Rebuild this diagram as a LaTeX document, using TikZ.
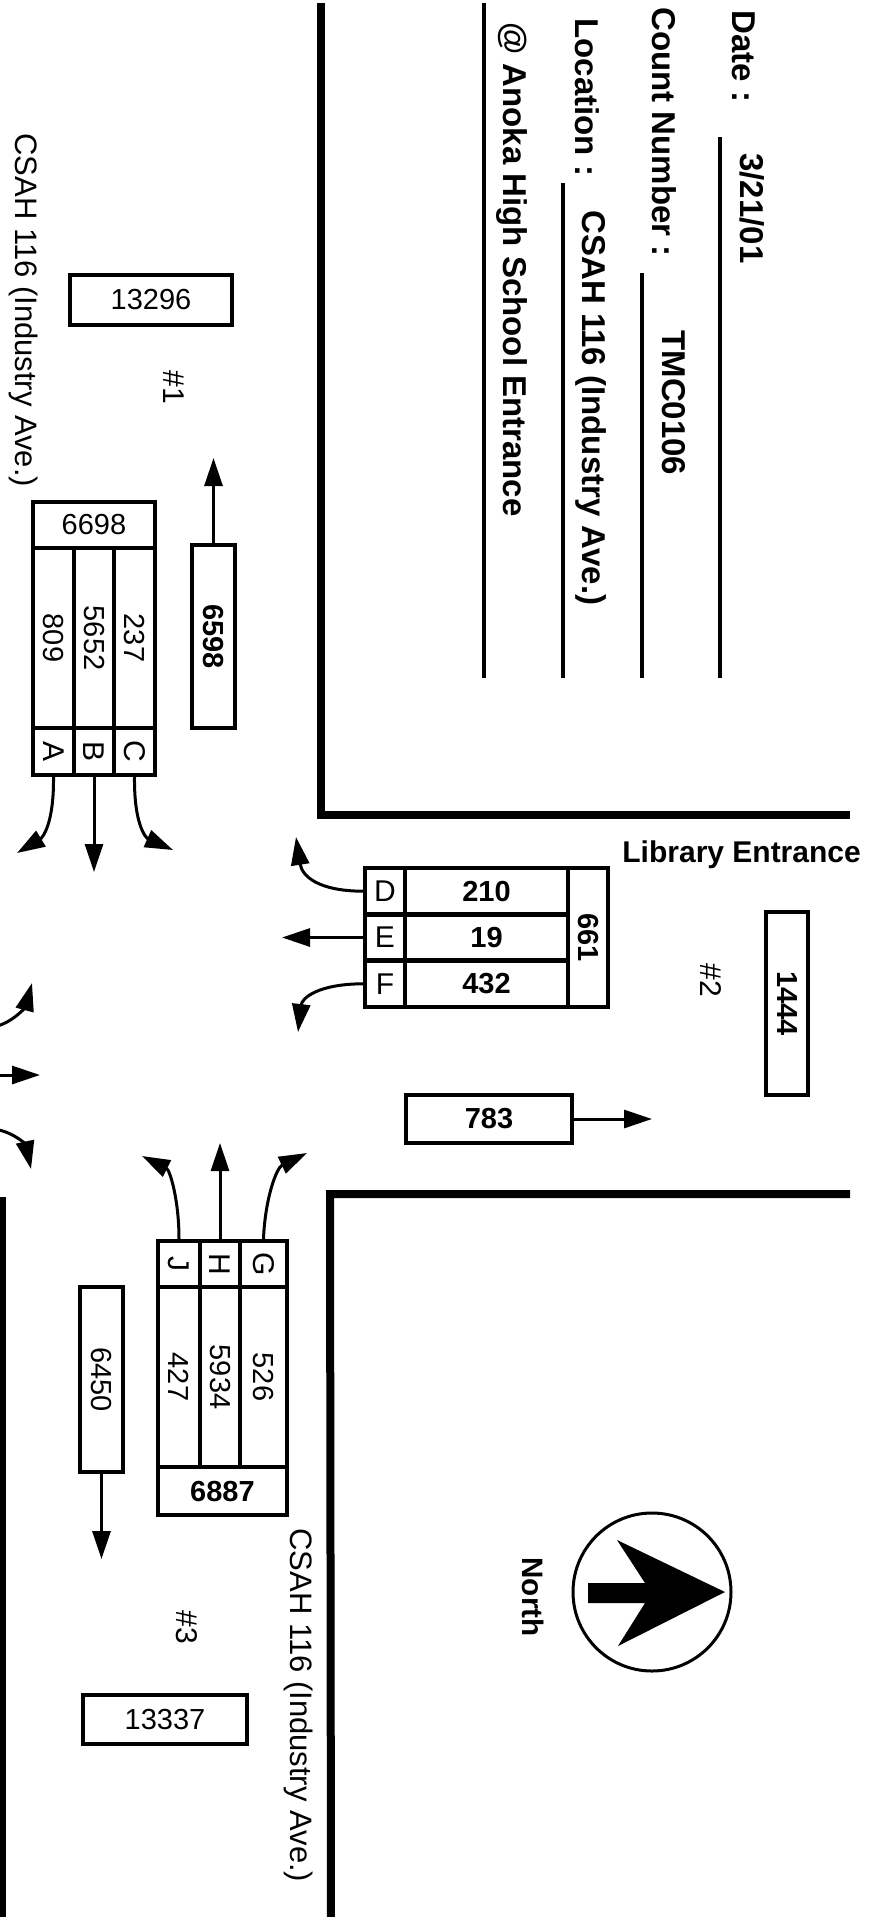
\documentclass[tikz,border=0pt]{standalone}
\usepackage{fontspec}
\setmainfont{Liberation Sans}
\usepackage{graphicx}
\usetikzlibrary{arrows.meta}
\newcommand{\rt}[1]{\rotatebox{-90}{#1}}
\begin{document}
\begin{tikzpicture}[x=0.5pt,y=-0.5pt,
 road/.style={line width=4pt},
 uline/.style={line width=2.4pt},
 hdr/.style={font=\fontsize{16.5}{18}\selectfont\bfseries, inner sep=0pt, rotate=-90, anchor=base west},
 street/.style={font=\fontsize{15.5}{18}\selectfont, inner sep=0pt, rotate=-90, anchor=base west},
 cell/.style={draw, line width=2.2pt, inner sep=0pt, font=\fontsize{14.5}{16}\selectfont},
 bcell/.style={cell, font=\fontsize{14.5}{16}\selectfont\bfseries},
 lcell/.style={cell, font=\fontsize{15}{16}\selectfont},
 lbl/.style={inner sep=0pt, font=\fontsize{15}{16}\selectfont},
 arr/.style={line width=1.5pt, -{Triangle[length=14pt,width=9pt]}},
]
\fill[white] (0,0) rectangle (874,1917);
\useasboundingbox (0,0) rectangle (874,1917);

% ---------- header ----------
\node[hdr] (date) at (732,10) {Date :};
\node[hdr] (datev) at (740,153) {3/21/01};
\node[hdr] (cnt) at (652,7) {Count Number :};
\node[hdr] (cntv) at (662,330) {TMC0106};
\node[hdr] (loc) at (575,18) {Location :};
\node[hdr] (locv) at (582,210) {CSAH 116 (Industry Ave.)};
\node[hdr] (atl) at (503,22) {@ Anoka High School Entrance};
\draw[uline] (720,137) -- (720,678);
\draw[uline] (642,273) -- (642,678);
\draw[uline] (563,183) -- (563,678);
\draw[uline] (484,3) -- (484,678);

% ---------- road edges ----------
\draw[road] (321,3) -- (321,815) -- (850,815);
\draw[road] (850,1194) -- (330,1194) -- (331,1920);
\draw[road] (2,1197) -- (2,1920);

% ---------- street labels ----------
\node[street] (st1) at (15,133) {CSAH 116 (Industry Ave.)};
\node[street] (st2) at (290,1528) {CSAH 116 (Industry Ave.)};

% ---------- approach #1 ----------
\node[cell, minimum width=81pt, minimum height=25pt] (tot1) at (151,300) {13296};
\node[lbl] (h1) at (174,387) {\rt{\#1}};
\node[bcell, minimum width=21.5pt, minimum height=91.5pt] (out1) at (213.5,636.5) {\rt{6598}};
\coordinate (out1e) at (213.5,458);
\draw[arr] (out1.north) -- (out1e);

\node[cell, minimum width=61pt, minimum height=23pt] (in1) at (94,525) {6698};
\node[cell, minimum width=20.5pt, minimum height=90pt] (nA) at (53.5,638) {\rt{809}};
\node[cell, minimum width=20pt, minimum height=90pt] (nB) at (94,638) {\rt{5652}};
\node[cell, minimum width=20.5pt, minimum height=90pt] (nC) at (134.5,638) {\rt{237}};
\node[lcell, minimum width=20.5pt, minimum height=23.5pt] (lA) at (53.5,751.5) {\rt{A}};
\node[lcell, minimum width=20pt, minimum height=23.5pt] (lB) at (94,751.5) {\rt{B}};
\node[lcell, minimum width=20.5pt, minimum height=23.5pt] (lC) at (134.5,751.5) {\rt{C}};
\coordinate (eA) at (17,853);
\coordinate (eB) at (94,872);
\coordinate (eC) at (173,850);
\draw[arr] (lA.south) .. controls (54,825) and (42,838) .. (eA);
\draw[arr] (lB.south) -- (eB);
\draw[arr] (lC.south) .. controls (134,825) and (146,838) .. (eC);

% ---------- approach #2 ----------
\node[lcell, minimum width=20pt, minimum height=23.2pt] (lD) at (385,891.2) {D};
\node[lcell, minimum width=20pt, minimum height=23.2pt] (lE) at (385,937.5) {E};
\node[lcell, minimum width=20pt, minimum height=23.2pt] (lF) at (385,983.8) {F};
\node[bcell, minimum width=81.5pt, minimum height=23.2pt] (nD) at (486.5,891.2) {210};
\node[bcell, minimum width=81.5pt, minimum height=23.2pt] (nE) at (486.5,937.5) {19};
\node[bcell, minimum width=81.5pt, minimum height=23.2pt] (nF) at (486.5,983.8) {432};
\node[bcell, minimum width=20pt, minimum height=69.5pt] (in2) at (588,937.5) {\rt{661}};
\coordinate (eD) at (296,837);
\coordinate (eE) at (282,937.5);
\coordinate (eF) at (298,1032);
\draw[arr] (lD.west) .. controls (318,891) and (302,876) .. (eD);
\draw[arr] (lE.west) -- (eE);
\draw[arr] (lF.west) .. controls (318,984) and (302,998) .. (eF);

\node[inner sep=0pt, font=\fontsize{15}{16}\selectfont\bfseries, anchor=base west] (lib) at (622,862) {Library Entrance};
\node[bcell, minimum width=21pt, minimum height=91.5pt] (tot2) at (787,1003.5) {\rt{1444}};
\node[lbl] (h2) at (711,980) {\rt{\#2}};
\node[bcell, minimum width=83pt, minimum height=24pt] (out2) at (489,1119) {783};
\coordinate (out2e) at (652,1119);
\draw[arr] (out2.east) -- (out2e);

% ---------- west side arrows (partly off page) ----------
\coordinate (w1s) at (-6,1027);
\coordinate (w1e) at (32,983);
\coordinate (w2s) at (-6,1075);
\coordinate (w2e) at (40,1075);
\coordinate (w3s) at (-6,1129);
\coordinate (w3e) at (31,1169);
\draw[arr] (w1s) .. controls (15,1022) and (26,1005) .. (w1e);
\draw[arr] (w2s) -- (w2e);
\draw[arr] (w3s) .. controls (15,1132) and (26,1146) .. (w3e);

% ---------- approach #3 ----------
\node[lcell, minimum width=21pt, minimum height=23pt] (lJ) at (179,1264) {\rt{J}};
\node[lcell, minimum width=20pt, minimum height=23pt] (lH) at (220,1264) {\rt{H}};
\node[lcell, minimum width=23.5pt, minimum height=23pt] (lG) at (263.5,1264) {\rt{G}};
\node[cell, minimum width=21pt, minimum height=90pt] (nJ) at (179,1377) {\rt{427}};
\node[cell, minimum width=20pt, minimum height=90pt] (nH) at (220,1377) {\rt{5934}};
\node[cell, minimum width=23.5pt, minimum height=90pt] (nG) at (263.5,1377) {\rt{526}};
\node[bcell, minimum width=64.5pt, minimum height=24pt] (in3) at (222.5,1491) {6887};
\coordinate (eJ) at (142,1156);
\coordinate (eH) at (220,1143);
\coordinate (eG) at (307,1153);
\draw[arr] (lJ.north) .. controls (179,1200) and (170,1170) .. (eJ);
\draw[arr] (lH.north) -- (eH);
\draw[arr] (lG.north) .. controls (265,1200) and (276,1168) .. (eG);

\node[cell, minimum width=21.5pt, minimum height=92.5pt] (out3) at (101.5,1379.5) {\rt{6450}};
\coordinate (out3e) at (101.5,1559);
\draw[arr] (out3.south) -- (out3e);
\node[lbl] (h3) at (187,1627) {\rt{\#3}};
\node[cell, minimum width=82pt, minimum height=24.5pt] (tot3) at (165,1719.5) {13337};

% ---------- north arrow ----------
\node[circle, draw, line width=1.5pt, minimum size=79pt, inner sep=0pt] (compass) at (652,1592) {};
\fill (588,1583) -- (645,1583) -- (617,1540) -- (725,1592) -- (618,1646) -- (645,1603) -- (588,1603) -- cycle;
\node[inner sep=0pt, font=\fontsize{14.8}{16}\selectfont\bfseries, rotate=-90, anchor=base] (north) at (522,1597) {North};
\end{tikzpicture}
\end{document}
